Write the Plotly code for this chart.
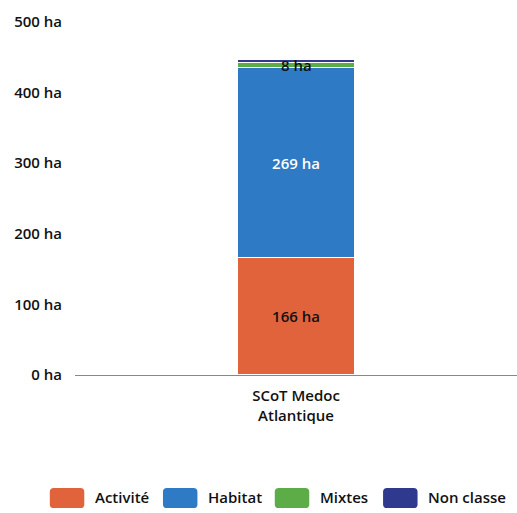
import plotly.graph_objects as go

categories = ["SCoT Medoc<br>Atlantique"]
series_names = ["Activité", "Habitat", "Mixtes", "Non classe"]
activite = [166]
habitat = [269]
mixtes = [8]
non_classe = [4]
colors = ["#E0633B", "#2E7AC4", "#5CAD47", "#2F3A8E"]
tick_vals = [0, 100, 200, 300, 400, 500]
tick_text = [f"{v} ha" for v in tick_vals]

FONT = "Open Sans"
FW = 600
FS = 15
fig = go.Figure()
vals = [activite, habitat, mixtes, non_classe]
text_colors = ["#111111", "#ffffff", "#111111", "#111111"]
for name, v, c, tc in zip(series_names, vals, colors, text_colors):
    show = name in ("Activité", "Habitat")
    fig.add_trace(go.Bar(
        x=categories, y=v, name=name,
        marker=dict(color=c, line=dict(color="white", width=1.2)),
        text=[f"{x} ha" for x in v] if show else None,
        textposition="inside", insidetextanchor="middle",
        textfont=dict(color=tc, size=FS, family=FONT, weight=FW),
        width=0.265, showlegend=False,
    ))

# Mixtes label (segment too thin to hold its text inside)
fig.add_annotation(
    x=categories[0], y=activite[0] + habitat[0] + mixtes[0] / 2,
    text=f"{mixtes[0]} ha", showarrow=False,
    font=dict(color="#111111", size=FS, family=FONT, weight=FW),
)

# legend drawn below the plot (paper coords relative to plot area)
def rounded(x0, x1, y0, y1, rx=0.009, ry=0.011):
    return (f"M {x0+rx},{y0} L {x1-rx},{y0} Q {x1},{y0} {x1},{y0+ry} "
            f"L {x1},{y1-ry} Q {x1},{y1} {x1-rx},{y1} L {x0+rx},{y1} "
            f"Q {x0},{y1} {x0},{y1-ry} L {x0},{y0+ry} Q {x0},{y0} {x0+rx},{y0} Z")

leg_x = [-0.057, 0.199, 0.452, 0.697]
for name, c, lx in zip(series_names, colors, leg_x):
    fig.add_shape(type="path", xref="paper", yref="paper",
                  path=rounded(lx, lx + 0.078, -0.377, -0.32),
                  fillcolor=c, line=dict(width=0), layer="above")
    fig.add_annotation(xref="paper", yref="paper", x=lx + 0.098, y=-0.347,
                       xanchor="left", yanchor="middle", showarrow=False,
                       text=name, font=dict(size=FS, family=FONT, weight=FW, color="#111111"))

fig.update_layout(
    barmode="stack",
    width=517, height=513,
    margin=dict(l=75, r=0, t=22, b=138),
    plot_bgcolor="white", paper_bgcolor="white",
    font=dict(family=FONT, size=FS, color="#111111", weight=FW),
    showlegend=False,
    xaxis=dict(showgrid=False, showline=True, linecolor="#888888", linewidth=1,
               ticks="", automargin=False, ticklabelstandoff=7,
               tickfont=dict(size=FS, family=FONT, weight=FW)),
    yaxis=dict(range=[0, 500], tickvals=tick_vals, ticktext=tick_text,
               showgrid=False, zeroline=False, showline=False, ticks="",
               automargin=False, ticklabelstandoff=12,
               tickfont=dict(size=FS, family=FONT, weight=FW)),
)

fig.write_html("out.html", config={"displayModeBar": False},
               post_script="document.body.style.margin='0px';")
